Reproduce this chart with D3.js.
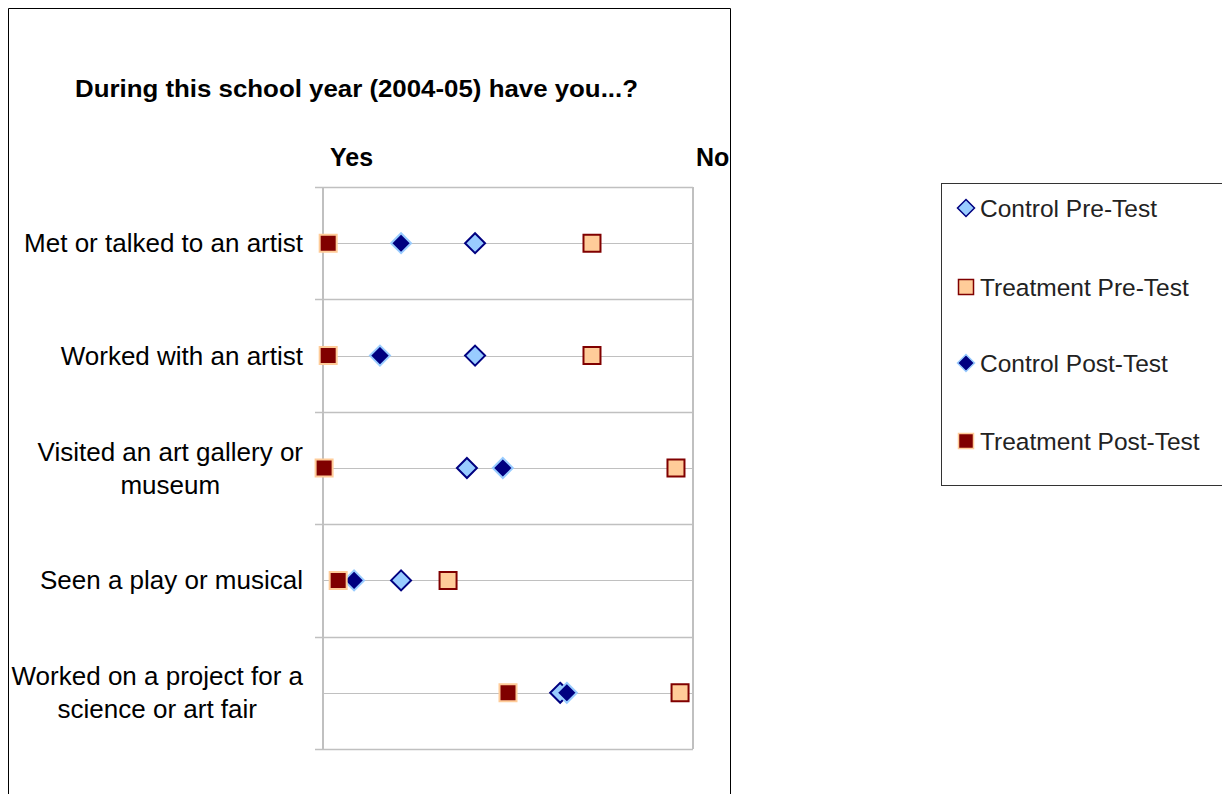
<!DOCTYPE html>
<html>
<head>
<meta charset="utf-8">
<script src="https://cdn.jsdelivr.net/npm/d3@7"></script>
<style>
  body { margin: 0; background: #fff; }
  svg { display: block; font-family: "Liberation Sans", Arial, sans-serif; }
</style>
</head>
<body>
<div class="chart"></div>
<script>
// categories top to bottom, lines split for the label wrap
const categories = [
  ["Met or talked to an artist"],
  ["Worked with an artist"],
  ["Visited an art gallery or", "museum"],
  ["Seen a play or musical"],
  ["Worked on a project for a", "science or art fair"]
];
// 0 = Yes ... 100 = No
const controlPre    = [41.1, 41.1, 38.9, 21.1, 64.1];
const treatmentPre  = [72.7, 72.7, 95.4, 33.8, 96.5];
const controlPost   = [21.1, 15.4, 48.6,  8.4, 65.9];
const treatmentPost = [ 1.4,  1.4,  0.3,  4.1, 50.0];

const seriesNames = ["Control Pre-Test", "Treatment Pre-Test", "Control Post-Test", "Treatment Post-Test"];

const series = [
  {name: seriesNames[0], values: controlPre,    shape: "diamond", fill: "#99ccff", stroke: "#000080"},
  {name: seriesNames[1], values: treatmentPre,  shape: "square",  fill: "#ffcc99", stroke: "#800000"},
  {name: seriesNames[2], values: controlPost,   shape: "diamond", fill: "#000080", stroke: "#99ccff"},
  {name: seriesNames[3], values: treatmentPost, shape: "square",  fill: "#800000", stroke: "#ffcc99"}
];

const svg = d3.select("div.chart").append("svg")
  .attr("width", 1222)
  .attr("height", 794);

// outer chart frame (bottom is off the page)
svg.append("path")
  .attr("d", "M8.5,800 V8.5 H730.5 V800")
  .attr("fill", "none")
  .attr("stroke", "#000")
  .attr("stroke-width", 1);

const plot = {left: 323, right: 693, top: 187, bottom: 749};

const x = d3.scaleLinear().domain([0, 100]).range([plot.left, plot.right]);
const y = d3.scaleBand().domain(d3.range(categories.length)).range([plot.top, plot.bottom]);
const yc = i => y(i) + y.bandwidth() / 2;

// title (the original is stretched sideways, so fit it to its width)
svg.append("text")
  .attr("x", 75).attr("y", 97)
  .attr("font-size", 23).attr("font-weight", "bold")
  .attr("textLength", 563).attr("lengthAdjust", "spacingAndGlyphs")
  .text("During this school year (2004-05) have you...?");

// Yes / No ends of the scale
svg.append("text").attr("x", 330).attr("y", 166)
  .attr("font-size", 25).attr("font-weight", "bold")
  .text("Yes");
svg.append("text").attr("x", 696).attr("y", 166)
  .attr("font-size", 25).attr("font-weight", "bold")
  .text("No");

// gridlines: band edges (with small ticks) and band centres
const g = svg.append("g");
const edges = d3.range(categories.length + 1).map(i => i < categories.length ? y(i) : plot.bottom);
g.selectAll("line.edge").data(edges).enter().append("line")
  .attr("class", "edge")
  .attr("x1", plot.left - 8).attr("x2", plot.right)
  .attr("y1", d => Math.round(d) + 0.5).attr("y2", d => Math.round(d) + 0.5)
  .attr("stroke", "#c0c0c0").attr("stroke-width", 1.5);
g.selectAll("line.mid").data(d3.range(categories.length)).enter().append("line")
  .attr("class", "mid")
  .attr("x1", plot.left).attr("x2", plot.right)
  .attr("y1", i => Math.round(yc(i)) + 0.5).attr("y2", i => Math.round(yc(i)) + 0.5)
  .attr("stroke", "#c0c0c0").attr("stroke-width", 1.2);

// plot frame sides
g.append("line").attr("x1", plot.left).attr("x2", plot.left)
  .attr("y1", plot.top).attr("y2", plot.bottom)
  .attr("stroke", "#c0c0c0").attr("stroke-width", 2);
g.append("line").attr("x1", plot.right).attr("x2", plot.right)
  .attr("y1", plot.top).attr("y2", plot.bottom)
  .attr("stroke", "#c0c0c0").attr("stroke-width", 2);

// category labels, right aligned block, lines centred inside it
const labelRight = 303;
categories.forEach((lines, i) => {
  const tg = svg.append("g");
  const texts = lines.map((t, k) => tg.append("text")
    .attr("font-size", 26)
    .attr("y", yc(i) + 9 + (k - (lines.length - 1) / 2) * 33)
    .text(t));
  const w = d3.max(texts, t => t.node().getComputedTextLength());
  texts.forEach(t => t.attr("x", labelRight - w / 2).attr("text-anchor", "middle"));
});

// markers
const symbolPath = (shape, s) => shape === "diamond"
  ? `M0,${-s}L${s},0L0,${s}L${-s},0Z`
  : `M${-s},${-s}H${s}V${s}H${-s}Z`;

series.forEach(s => {
  svg.append("g").selectAll("path")
    .data(s.values).enter().append("path")
    .attr("transform", (d, i) => `translate(${x(d)},${yc(i)})`)
    .attr("d", symbolPath(s.shape, s.shape === "diamond" ? 10 : 8.5))
    .attr("fill", s.fill)
    .attr("stroke", s.stroke)
    .attr("stroke-width", 2);
});

// legend
const legend = svg.append("g");
legend.append("rect")
  .attr("x", 941.5).attr("y", 183.5)
  .attr("width", 300).attr("height", 302)
  .attr("fill", "#fff").attr("stroke", "#333").attr("stroke-width", 1);
const legendY = [208, 287, 363, 441];
series.forEach((s, i) => {
  legend.append("path")
    .attr("transform", `translate(966,${legendY[i]})`)
    .attr("d", symbolPath(s.shape, s.shape === "diamond" ? 8.5 : 7.5))
    .attr("fill", s.fill).attr("stroke", s.stroke).attr("stroke-width", 1.5);
  legend.append("text")
    .attr("x", 980).attr("y", legendY[i] + 9)
    .attr("font-size", 24.5).attr("fill", "#222")
    .text(s.name);
});
</script>
</body>
</html>
